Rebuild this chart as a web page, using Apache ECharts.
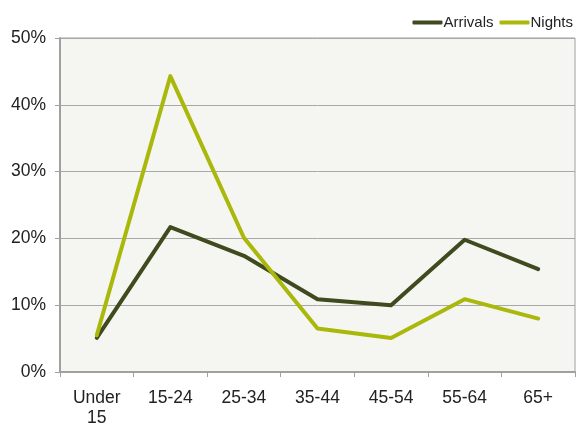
<!DOCTYPE html>
<html><head><meta charset="utf-8">
<script src="https://cdn.jsdelivr.net/npm/echarts@6/dist/echarts.min.js"></script>
<style>html,body{margin:0;padding:0;background:#fff}#c{width:576px;height:428px}</style>
</head><body><div id="c"></div>
<script>
const categories = ['Under\n15','15-24','25-34','35-44','45-54','55-64','65+'];
const arrivals = [5.1, 21.7, 17.4, 10.9, 10.0, 19.8, 15.4];
const nights = [5.5, 44.3, 20.1, 6.5, 5.1, 10.9, 8.0];
const yTicks = [0, 10, 20, 30, 40, 50];

const chart = echarts.init(document.getElementById('c'));
chart.setOption({
  animation: false,
  textStyle: {fontFamily: 'Liberation Sans, Arial, sans-serif'},
  legend: {
    right: -2, top: 10,
    icon: 'roundRect', itemWidth: 30, itemHeight: 4, itemGap: 6,
    textStyle: {fontSize: 15, color: '#222', padding: [0,0,0,-4]},
    data: ['Arrivals','Nights']
  },
  grid: {left: 60, right: 1, top: 38, bottom: 56, show: true, backgroundColor: '#f5f5f1', borderColor: '#a0a0a0', borderWidth: 1},
  xAxis: {
    type: 'category', data: categories, boundaryGap: true,
    axisLine: {lineStyle: {color: '#a0a0a0', width: 2}},
    axisTick: {show: true, length: 5, lineStyle: {color: '#a0a0a0', width: 1}},
    axisLabel: {fontSize: 17.5, color: '#222', margin: 16, lineHeight: 20}
  },
  yAxis: {
    type: 'value', min: yTicks[0], max: yTicks[yTicks.length-1], interval: 10,
    axisLine: {show: true, lineStyle: {color: '#a0a0a0', width: 2}},
    axisTick: {show: true, length: 5, lineStyle: {color: '#a0a0a0'}},
    splitLine: {lineStyle: {color: '#a8a8a8', width: 1}},
    axisLabel: {fontSize: 17.5, color: '#222', margin: 14, formatter: v => v + '%'}
  },
  series: [
    {name: 'Arrivals', type: 'line', data: arrivals, symbol: 'none', color: '#3f4a1f',
     lineStyle: {width: 4, color: '#3f4a1f', cap: 'round', join: 'round'}},
    {name: 'Nights', type: 'line', data: nights, symbol: 'none', color: '#a9b80a',
     lineStyle: {width: 4, color: '#a9b80a', cap: 'round', join: 'round'}}
  ]
});
</script></body></html>
